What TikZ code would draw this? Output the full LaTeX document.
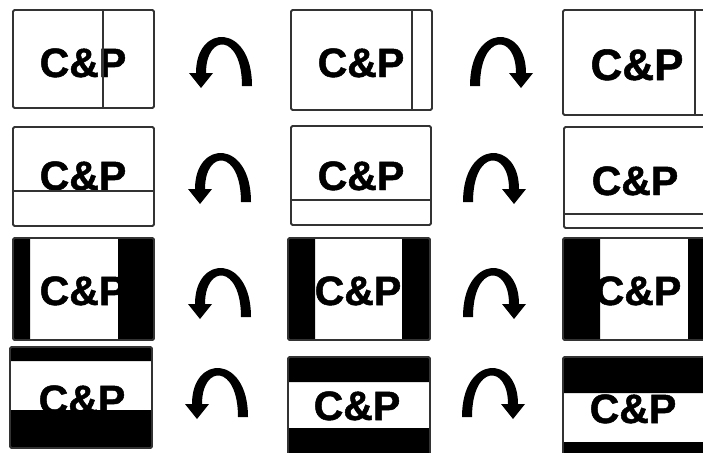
\documentclass[tikz,border=0pt]{standalone}
\usepackage{fontspec}
\setmainfont{Liberation Sans}[BoldFeatures={FakeBold=1.2}]

\begin{document}
\begin{tikzpicture}[
            x=1pt, y=-1pt,
            frame/.style={line width=1.8pt, draw=black!80, rounded corners=1.5pt},
            split/.style={line width=1.8pt, draw=black!80},
            band/.style={fill=black},
            logo/.style={font=\fontsize{41}{41}\selectfont\bfseries, inner sep=0pt, anchor=base},
            turn/.pic={
                \fill (28,49) .. controls (28,-14) and (-28,-14) .. (-28,36)
                    -- (-35,36) -- (-23,51) -- (-11,36)
                    -- (-18,36) .. controls (-18,-4) and (18,-4) .. (18,49) -- cycle;
            },
        ]
            \useasboundingbox (0,0) rectangle (703,452);
            \clip (0,0) rectangle (703,452);

            %% row 1: vertical split moves right
            \node[logo] (a1) at (83,77) {C\&P};
            \draw[frame] (13,10) rectangle (154,108);
            \draw[split] (103,10) -- (103,108);
            \node[logo] (b1) at (361,77) {C\&P};
            \draw[frame] (291,10) rectangle (432,110);
            \draw[split] (412,10) -- (412,110);
            \node[logo, font=\fontsize{44}{44}\selectfont\bfseries] (c1) at (637,80) {C\&P};
            \draw[frame] (563,10) rectangle (720,115);
            \draw[split] (695,10) -- (695,115);

            %% row 2: horizontal split moves down
            \node[logo] (a2) at (83,190) {C\&P};
            \draw[frame] (13,127) rectangle (154,226);
            \draw[split] (13,191) -- (154,191);
            \node[logo] (b2) at (361,190) {C\&P};
            \draw[frame] (291,126) rectangle (431,225);
            \draw[split] (291,200) -- (431,200);
            \node[logo] (c2) at (635,195) {C\&P};
            \draw[frame] (564,127) rectangle (720,228);
            \draw[split] (564,214) -- (720,214);

            %% row 3: side bars
            \node[logo] (a3) at (83,305) {C\&P};
            \fill[band] (13,238) rectangle (30,340) (118,238) rectangle (154,340);
            \draw[frame] (13,238) rectangle (154,340);
            \node[logo] (b3) at (358,305) {C\&P};
            \fill[band] (288,238) rectangle (315,340) (402,238) rectangle (430,340);
            \draw[frame] (288,238) rectangle (430,340);
            \node[logo] (c3) at (638,305) {C\&P};
            \fill[band] (563,238) rectangle (600,340) (688,238) rectangle (720,340);
            \draw[frame] (563,238) rectangle (720,340);

            %% row 4: top and bottom bars
            \node[logo] (a4) at (82,414) {C\&P};
            \fill[band] (10,347) rectangle (152,361) (10,410) rectangle (152,448);
            \draw[frame] (10,347) rectangle (152,448);
            \node[logo] (b4) at (357,420) {C\&P};
            \fill[band] (288,357) rectangle (430,382) (288,428) rectangle (430,460);
            \draw[frame] (288,357) rectangle (430,460);
            \node[logo] (c4) at (633,423) {C\&P};
            \fill[band] (563,357) rectangle (720,393) (563,442) rectangle (720,460);
            \draw[frame] (563,357) rectangle (720,460);

            %% turn arrows between the columns
            \foreach \x/\y in {224/37, 223/153, 223/268, 220/368}{
                \pic at (\x,\y) {turn};
            }
            \foreach \x/\y in {498/37, 491/153, 491/268, 490/368}{
                \pic[xscale=-1] at (\x,\y) {turn};
            }
        \end{tikzpicture}
\end{document}
